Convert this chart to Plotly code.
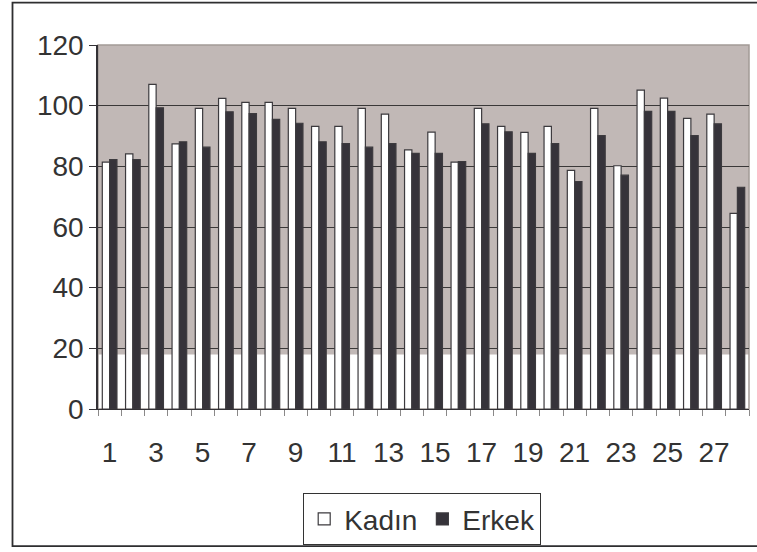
import plotly.graph_objects as go

categories = list(range(1, 29))
kadin = [81.4, 84.1, 107.0, 87.4, 99.1, 102.4, 101.1, 101.1, 99.1, 93.2,
         93.2, 99.1, 97.2, 85.4, 91.3, 81.4, 99.1, 93.2, 91.2, 93.2,
         78.7, 99.1, 80.2, 105.1, 102.5, 95.8, 97.2, 64.5]
erkek = [82.2, 82.2, 99.3, 88.1, 86.3, 98.0, 97.4, 95.5, 94.2, 88.1,
         87.5, 86.3, 87.5, 84.3, 84.3, 81.6, 94.0, 91.4, 84.3, 87.5,
         75.0, 90.1, 77.1, 98.1, 98.1, 90.1, 94.0, 73.1]
x_tick_vals = list(range(1, 28, 2))
x_tick_text = [str(v) for v in x_tick_vals]
y_tick_vals = [0, 20, 40, 60, 80, 100, 120]

dark = "#333135"
fig = go.Figure()
fig.add_trace(go.Bar(x=categories, y=kadin, name="Kadın",
                     marker=dict(color="white", line=dict(color="#3c3a3e", width=1.2))))
fig.add_trace(go.Bar(x=categories, y=erkek, name="Erkek",
                     marker=dict(color="#36333a", line=dict(color="#3c3a3e", width=1.2))))

L, R, T, B = 98, 8, 44.5, 141.5
W, H = 757, 552
pw, ph = W - L - R, H - T - B

shapes = [
    dict(type="rect", xref="paper", yref="y", x0=0, x1=1, y0=18, y1=120,
         fillcolor="#c1b8b6", line=dict(width=0), layer="below"),
    dict(type="rect", xref="paper", yref="paper", x0=0, x1=1, y0=0, y1=1,
         line=dict(color="#a39a96", width=1.5), layer="below"),
    dict(type="rect", xref="paper", yref="paper",
         x0=(12.5 - L) / pw, x1=(770 - L) / pw,
         y0=(H - B - 548.3) / ph, y1=(H - B - 1.8) / ph,
         line=dict(color="#2e2e30", width=1.8)),
]

fig.update_layout(
    width=W, height=H,
    margin=dict(l=L, r=R, t=T, b=B),
    paper_bgcolor="white", plot_bgcolor="white",
    barmode="group", bargap=0.37, bargroupgap=0,
    font=dict(family="Liberation Sans, Arial, sans-serif", size=28, color="#333333"),
    shapes=shapes,
    showlegend=True,
    legend=dict(orientation="h", x=0.498, xanchor="center", y=(H - B - 494) / ph,
                yanchor="top",
                bordercolor="#333333", borderwidth=1, bgcolor="white",
                font=dict(size=28), itemwidth=30, tracegroupgap=0),
    xaxis=dict(type="linear", range=[0.5, 28.5], tickmode="array",
               tickvals=x_tick_vals, ticktext=x_tick_text, ticks="", showgrid=False,
               zeroline=False, showline=True, linecolor=dark, linewidth=1,
               tickfont=dict(size=28), ticklabelstandoff=18,
               minor=dict(tickmode="linear", tick0=0.5, dtick=1, ticks="outside",
                          ticklen=6, tickcolor="#8a8888", showgrid=False)),
    yaxis=dict(range=[0, 120], tickmode="array", tickvals=y_tick_vals,
               ticks="outside", ticklen=7, tickcolor=dark, showgrid=True,
               gridcolor="#3a3838", gridwidth=1, zeroline=False,
               showline=True, linecolor=dark, linewidth=1.5,
               tickfont=dict(size=28)),
)

fig.write_html("out.html", config={"displayModeBar": False},
               post_script="document.body.style.margin='0';document.body.style.overflow='hidden';")
